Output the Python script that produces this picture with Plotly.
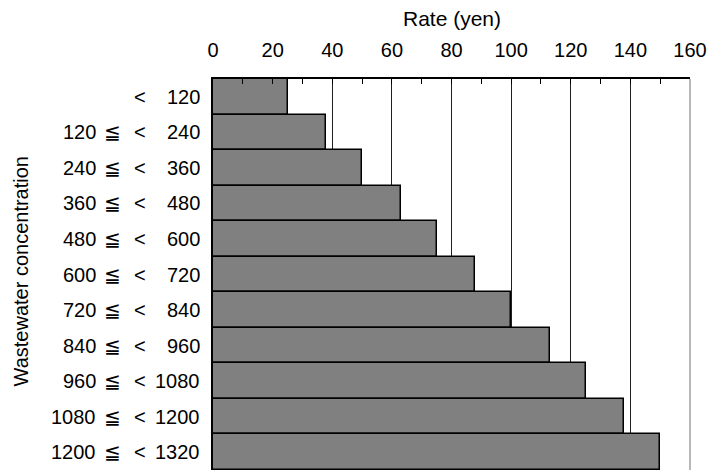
import plotly.graph_objects as go

# Data
lower_bounds = ["", "120", "240", "360", "480", "600", "720", "840", "960", "1080", "1200"]
upper_bounds = ["120", "240", "360", "480", "600", "720", "840", "960", "1080", "1200", "1320"]
rates = [25, 38, 50, 63, 75, 88, 100, 113, 125, 138, 150]
categories = [f"{lo} ≦ < {hi}" if lo else f"< {hi}" for lo, hi in zip(lower_bounds, upper_bounds)]
x_ticks = [0, 20, 40, 60, 80, 100, 120, 140, 160]

FONT = "Liberation Sans, Arial, sans-serif"
FS = 20

fig = go.Figure(
    go.Bar(
        x=rates,
        y=categories,
        orientation="h",
        marker=dict(color="#808080", line=dict(color="black", width=1.5)),
        hoverinfo="x+y",
    )
)

annotations = []
for cat, lo, hi in zip(categories, lower_bounds, upper_bounds):
    common = dict(xref="paper", yref="y", x=0, y=cat, showarrow=False,
                  font=dict(family=FONT, size=FS, color="black"), yanchor="middle")
    if lo:
        annotations.append(dict(text=lo, xanchor="right", xshift=-115, **common))
        annotations.append(dict(text="≦", xanchor="center", xshift=-101, **common))
    annotations.append(dict(text="<", xanchor="center", xshift=-73, **common))
    annotations.append(dict(text=hi, xanchor="right", xshift=-11, **common))

annotations.append(dict(text="Rate (yen)", xref="paper", yref="paper", x=0.5, y=1,
                        yanchor="middle", xanchor="center", yshift=61, showarrow=False,
                        font=dict(family=FONT, size=21, color="black")))
annotations.append(dict(text="Wastewater concentration", xref="paper", yref="paper", x=0, y=0.5,
                        xanchor="center", yanchor="middle", xshift=-193, yshift=3, textangle=-90,
                        showarrow=False, font=dict(family=FONT, size=FS, color="black")))

fig.update_layout(
    width=708, height=470,
    margin=dict(l=213, r=18, t=79, b=0),
    paper_bgcolor="white", plot_bgcolor="white",
    bargap=0,
    showlegend=False,
    annotations=annotations,
    shapes=[dict(type="line", xref="paper", yref="paper", x0=1, x1=1, y0=0, y1=1,
                 line=dict(color="#a0a0a0", width=1.5), layer="above")],
    font=dict(family=FONT, size=FS, color="black"),
)
fig.update_xaxes(
    side="top", range=[0, 160], tickvals=x_ticks, ticktext=[str(v) for v in x_ticks],
    ticks="inside", ticklen=5, tickwidth=1, tickcolor="black",
    minor=dict(dtick=10, ticks="inside", ticklen=5, tickwidth=1, tickcolor="black", showgrid=False),
    showgrid=True, gridcolor="#202020", gridwidth=1.2,
    showline=True, linecolor="black", linewidth=1.5,
    zeroline=False, ticklabelstandoff=12,
    tickfont=dict(family=FONT, size=FS, color="black"),
)
fig.update_yaxes(
    type="category", categoryorder="array", categoryarray=categories,
    autorange="reversed", showticklabels=False, ticks="",
    showgrid=False, showline=True, linecolor="black", linewidth=1.5, zeroline=False,
)

fig.write_html("out.html", config={"displayModeBar": False},
               post_script="document.body.style.margin='0px';")
